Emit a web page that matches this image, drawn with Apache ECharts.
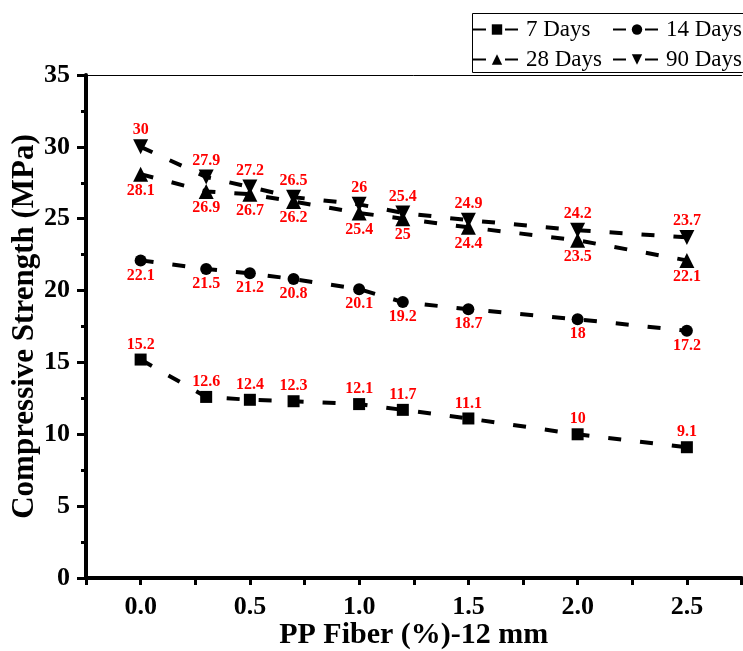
<!DOCTYPE html>
<html><head><meta charset="utf-8">
<script src="https://cdn.jsdelivr.net/npm/echarts@6/dist/echarts.min.js"></script>
<style>html,body{margin:0;padding:0;background:#fff}#c{width:743px;height:651px}</style>
</head><body><div id="c"></div>
<script>
var fiber = [0, 0.3, 0.5, 0.7, 1.0, 1.2, 1.5, 2.0, 2.5];
var days7 = [15.2, 12.6, 12.4, 12.3, 12.1, 11.7, 11.1, 10, 9.1];
var days14 = [22.1, 21.5, 21.2, 20.8, 20.1, 19.2, 18.7, 18, 17.2];
var days28 = [28.1, 26.9, 26.7, 26.2, 25.4, 25, 24.4, 23.5, 22.1];
var days90 = [30, 27.9, 27.2, 26.5, 26, 25.4, 24.9, 24.2, 23.7];
var seriesNames = ['7 Days', '14 Days', '28 Days', '90 Days'];
var xTicks = [0.0, 0.5, 1.0, 1.5, 2.0, 2.5];

var font = '"Liberation Serif", "Times New Roman", serif';
function pairs(ys){ return fiber.map(function(x,i){ return [x, ys[i]]; }); }
function mk(name, ys, symbol, rotate, pos){
  return {
    name: name, type: 'line', data: pairs(ys),
    symbol: symbol, symbolSize: symbol === 'triangle' ? 15 : 12, symbolRotate: rotate,
    itemStyle: {color: '#000'},
    lineStyle: {color: '#000', width: 4, type: [13, 19]},
    label: {show: true, position: pos, distance: 1, color: '#ff0000', fontFamily: font, fontWeight: 'bold', fontSize: 16,
      formatter: function(p){ return String(p.value[1]); }},
    z: 3
  };
}
var legendCommon = {
  orient: 'vertical', top: 18, itemWidth: 48, itemHeight: 13, itemGap: 7, padding: 0,
  textStyle: {fontFamily: font, fontSize: 23, color: '#000', lineHeight: 23}
};
var chart = echarts.init(document.getElementById('c'));
chart.setOption({
  animation: false,
  backgroundColor: '#fff',
  grid: {left: 86, right: 1.5, top: 75, bottom: 73, containLabel: false, outerBoundsMode: 'none'},
  legend: [
    Object.assign({data: [seriesNames[0], seriesNames[2]], left: 472}, legendCommon),
    Object.assign({data: [seriesNames[1], seriesNames[3]], left: 612}, legendCommon)
  ],
  graphic: [{
    type: 'rect', left: 470, top: 11, z: 10,
    shape: {x: 0, y: 0, width: 300, height: 59},
    style: {fill: 'none', stroke: '#000', lineWidth: 1}
  }],
  xAxis: [{
    type: 'value', min: -0.25, max: 2.75, interval: 0.25,
    axisLine: {show: true, onZero: false, lineStyle: {color: '#000', width: 4}},
    axisTick: {show: true, inside: false, length: 7, lineStyle: {color: '#000', width: 3}},
    axisLabel: {margin: 16, color: '#000', fontFamily: font, fontWeight: 'bold', fontSize: 26,
      formatter: function(v){
        for (var i=0;i<xTicks.length;i++){ if (Math.abs(v - xTicks[i]) < 1e-6) return xTicks[i].toFixed(1); }
        return '';
      }},
    splitLine: {show: false},
    name: 'PP Fiber (%)-12 mm', nameLocation: 'middle', nameGap: 42, nameMoveOverlap: false,
    nameTextStyle: {color: '#000', fontFamily: font, fontWeight: 'bold', fontSize: 30}
  }, {
    type: 'value', position: 'top', min: -0.25, max: 2.75,
    axisLine: {show: true, onZero: false, lineStyle: {color: '#000', width: 1}},
    axisTick: {show: false}, axisLabel: {show: false}, splitLine: {show: false}
  }],
  yAxis: {
    type: 'value', min: 0, max: 35, interval: 5,
    axisLine: {show: true, onZero: false, lineStyle: {color: '#000', width: 4}},
    axisTick: {show: true, inside: false, length: 9, lineStyle: {color: '#000', width: 3}},
    minorTick: {show: true, splitNumber: 2, length: 5, lineStyle: {color: '#000', width: 3}},
    axisLabel: {margin: 16, color: '#000', fontFamily: font, fontWeight: 'bold', fontSize: 26},
    splitLine: {show: false},
    name: 'Compressive Strength (MPa)', nameLocation: 'middle', nameGap: 46, nameMoveOverlap: false,
    nameTextStyle: {color: '#000', fontFamily: font, fontWeight: 'bold', fontSize: 31}
  },
  series: [
    mk(seriesNames[0], days7, 'rect', 0, 'top'),
    mk(seriesNames[1], days14, 'circle', 0, 'bottom'),
    mk(seriesNames[2], days28, 'triangle', 0, 'bottom'),
    mk(seriesNames[3], days90, 'triangle', 180, 'top')
  ]
});
</script></body></html>
